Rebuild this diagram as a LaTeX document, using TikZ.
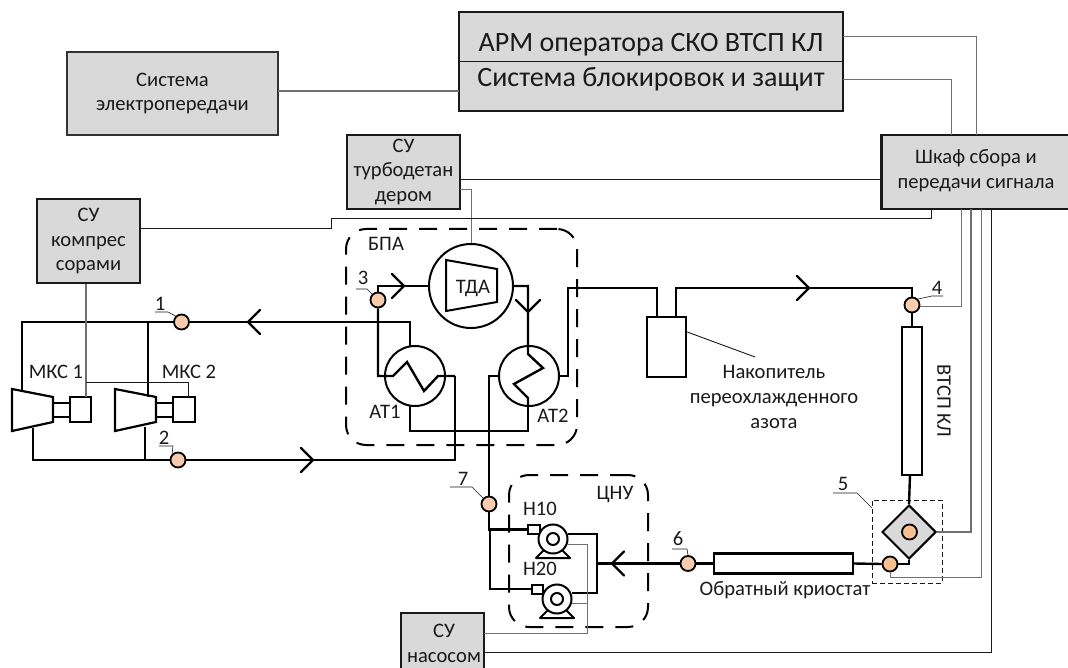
\documentclass[tikz,border=0pt]{standalone}
\usepackage{fontspec}
\setmainfont{Carlito}
\usetikzlibrary{shapes.geometric}
\definecolor{boxfill}{HTML}{D9D9D9}
\definecolor{peach}{HTML}{F8CBAD}
\definecolor{peachb}{HTML}{F7C08F}
\definecolor{ink}{HTML}{1A1A1A}
\definecolor{sgray}{HTML}{707070}
\tikzset{
  txt/.style={font=\fontsize{20.6}{24.8}\selectfont,text=ink,align=center,inner sep=0pt},
  bigt/.style={font=\fontsize{28}{30}\selectfont,text=ink,align=center,inner sep=0pt},
  box/.style={draw=ink,line width=2pt,fill=boxfill,inner sep=0pt,align=center,font=\fontsize{20.6}{24.8}\selectfont,text=ink},
  plainbox/.style={draw=black,line width=2.4pt,fill=white,inner sep=0pt},
  pt/.style={circle,draw=black,line width=1.8pt,fill=peach,minimum size=15pt,inner sep=0pt},
  ptb/.style={pt,fill=peachb},
  ring/.style={circle,draw=black,line width=2pt,fill=white,inner sep=0pt},
  pipe/.style={draw=black,line width=2.4pt,line join=miter},
  sig/.style={draw=ink,line width=.9pt},
  sigg/.style={draw=sgray,line width=1.2pt},
  leader/.style={draw=ink,line width=.6pt},
  zone/.style={draw=black,line width=2pt,rounded corners=20pt,dash pattern=on 18pt off 12pt,inner sep=0pt},
  chevron/.pic={\draw[pipe,line cap=round] (-12,-12) -- (0,0) -- (-12,12);},
  pumpbase/.pic={\draw[draw=black,line width=2pt,fill=white,line join=round] (-17,19) -- (-9,11) -- (9,11) -- (17,19) -- cycle;},
}
\begin{document}
\begin{tikzpicture}[x=1pt,y=-1pt]
\useasboundingbox (0,0) rectangle (1068,668);
\clip (0,0) rectangle (1068,668);
\fill[white] (0,0) rectangle (1068,668);

% dashed zones
\node[zone,minimum width=231pt,minimum height=216pt] (bpa) at (461.5,337) {};
\node[zone,minimum width=139pt,minimum height=152pt] (cnu) at (578.5,551) {};
\node[draw=ink,line width=.9pt,dash pattern=on 5pt off 3pt,minimum width=70pt,minimum height=83pt,inner sep=0pt] (zone5) at (907,541.5) {};

% boxes
\node[box,draw=black!80,line width=1.4pt,minimum width=211pt,minimum height=83pt] (el) at (172.5,93.5) {Система\\электропередачи};
\node[box,line width=2.4pt,minimum width=384pt,minimum height=99pt] (apm) at (651,61.5) {};
\node[bigt,minimum width=384pt,minimum height=49pt] (apmt) at (651,37) {};
\node[bigt] (apm1) at (651,45) {АРМ оператора СКО ВТСП КЛ};
\node[bigt] (apm2) at (651,79) {Система блокировок и защит};
\draw[sig] (apmt.south west) -- (apmt.south east);
\node[box,line width=2.4pt,minimum width=113pt,minimum height=74pt] (tu) at (403.5,172) {СУ\\турбодетан\\дером};
\node[box,line width=2.4pt,minimum width=190.5pt,minimum height=74pt] (shk) at (976.75,172) {};
\node[txt] (shkt) at (976,170.5) {Шкаф сбора и\\передачи сигнала};
\node[box,line width=2.4pt,minimum width=103pt,minimum height=84pt] (ko) at (88.5,241) {СУ\\компрес\\сорами};
\node[box,line width=2.4pt,minimum width=83pt,minimum height=65pt] (na) at (442.5,645.5) {};
\node[txt] (nat) at (444,643.5) {СУ\\насосом};

% apparatus rings
\node[ring,minimum size=84pt] (tda) at (471,286) {};
\node[ring,minimum size=60pt] (at1) at (415,376) {};
\node[ring,minimum size=60pt] (at2) at (529,376) {};
\node[plainbox,minimum width=39pt,minimum height=60pt] (nak) at (666.5,347) {};
\node[plainbox,minimum width=20pt,minimum height=148pt] (vt) at (912,401) {};
\node[plainbox,minimum width=139pt,minimum height=20pt] (kr) at (783.5,563.5) {};
\node[diamond,aspect=1,draw=black,line width=2pt,fill=boxfill,minimum width=54pt,minimum height=54pt,inner sep=0pt] (dia) at (909,532) {};

% measuring points
\node[pt] (c1) at (181.5,322) {};
\node[pt] (c2) at (178,460) {};
\node[pt] (c3) at (378,300) {};
\node[pt] (c4) at (912,305) {};
\node[ptb] (c5a) at (909.5,532) {};
\node[ptb] (c5b) at (890,564) {};
\node[pt] (c6) at (688,563.5) {};
\node[pt] (c7) at (489,504) {};

% pumps
\pic at (553,539) {pumpbase};
\pic at (557,599) {pumpbase};
\node[draw=black,line width=2pt,fill=white,minimum width=12pt,minimum height=9pt,inner sep=0pt] (p1in) at (534,529.5) {};
\node[draw=black,line width=2pt,fill=white,minimum width=11pt,minimum height=9pt,inner sep=0pt] (p2in) at (537.5,589) {};
\node[ring,minimum size=29pt] (p1) at (553,539) {};
\node[ring,minimum size=12pt] (p1i) at (553,539) {};
\node[ring,minimum size=29pt] (p2) at (557,599) {};
\node[ring,minimum size=12pt] (p2i) at (557,599) {};

% compressor anchors
\coordinate (t1) at (22,391);
\coordinate (t2) at (148,397);
\coordinate (b1) at (33,428);
\coordinate (b2) at (145,427);
\coordinate (m1) at (86,397);
\coordinate (m2) at (188,397);
\coordinate (at1i) at (410,346);
\coordinate (at1o) at (455,376);
\coordinate (at1b) at (410,406);
\coordinate (at2t) at (528,347);
\coordinate (at2b) at (528,406);
\coordinate (nakL) at (657,317);
\coordinate (nakR) at (676,317);
\coordinate (vtb) at (910,475);
\coordinate (pcol) at (597,563.5);
\coordinate (pout1) at (568,534);
\coordinate (pout2) at (572,593);

% compressors
\draw[draw=black,line width=2.2pt,fill=white] (12,389) -- (53,397) -- (53,422) -- (12,431) -- cycle;
\draw[draw=black,line width=2.2pt,fill=white] (115,389) -- (156,397) -- (156,422) -- (115,431) -- cycle;
\draw[draw=black,line width=2.2pt] (53,403) -- (70,403) (53,417) -- (70,417);
\draw[draw=black,line width=2.2pt] (156,403) -- (173,403) (156,417) -- (173,417);
\node[plainbox,minimum width=21pt,minimum height=25pt] (mot1) at (80.5,409.5) {};
\node[plainbox,minimum width=22pt,minimum height=25pt] (mot2) at (184,409.5) {};
\draw[draw=black,line width=2pt,fill=white] (446,260) -- (497,269) -- (497,302) -- (446,311) -- cycle;

% pipes
\draw[pipe] (t1) |- (c1.west);
\draw[pipe] (t2) -- (t2 |- c1.west);
\draw[pipe] (c1.east) -| (at1i);
\draw[pipe] (b1) |- (c2.west);
\draw[pipe] (b2) -- (b2 |- c2.west);
\draw[pipe] (c2.east) -| (at1o);
\draw[pipe] (c3.south) |- (393,376) -- (407,362) -- (424,391) -- (438,376) -- (at1o);
\draw[pipe] (c3.north) |- (tda.west);
\draw[pipe] (tda.east) -| (at2t) -- (528,354) -- (543,368) -- (514,384) -- (528,398) -- (at2b);
\draw[pipe] (at1b) |- (at2b |- 0,431) -- (at2b);
\draw[pipe] (at2.west) -| (c7.north);
\draw[pipe] (at2.east) -- (568,376) |- (nakL |- 0,288) -- (nakL);
\draw[pipe] (nakR) -- (nakR |- 0,288) -| (c4.north);
\draw[pipe] (c4.south) -- (vt.north);
\draw[pipe] (vtb) -- (dia.north);
\draw[pipe] (c5b.east) -| (dia.south);
\draw[pipe] (kr.east) -- (c5b.west);
\draw[pipe] (c6.east) -- (kr.west);
\draw[pipe] (c6.west) -- (pcol);
\draw[pipe] (pout1) -| (pout2 -| pcol) -- (pout2);
\draw[pipe] (c7.south) |- (p1in.west);
\draw[pipe] (490,529.5) |- (p2in.west);

% flow arrows
\pic[rotate=180] at (248,322) {chevron};
\pic at (313,460) {chevron};
\pic at (404,286) {chevron};
\pic[rotate=-90] at (528,312) {chevron};
\pic at (809,288) {chevron};
\pic[rotate=180] at (612,563.5) {chevron};

% signal lines
\coordinate (ela) at (278,91);
\coordinate (apa) at (459,91);
\draw[sigg] (ela) -- (apa);
\coordinate (apb) at (843,37);
\coordinate (shb) at (976,135);
\draw[sigg,line width=1pt] (apb) -| (shb);
\coordinate (apc) at (843,80);
\coordinate (shc) at (951,135);
\draw[sigg,line width=1pt] (apc) -| (shc);
\coordinate (tua) at (460,179);
\draw[sig] (tua) -- (tua -| shk.west);
\coordinate (tub) at (460,190);
\draw[sigg,line width=1pt] (tub) -| (tda.north);
\coordinate (koa) at (140,228);
\coordinate (sha) at (931,209);
\draw[sig] (koa) -- (331,228) |- (sha |- 0,218) -- (sha);
\draw[sigg] (ko.south -| m1) -- (m1);
\draw[sig] (m1 |- 0,382) -| (m2);
\coordinate (sh4) at (961,209);
\draw[sigg,line width=1pt] (c4.east |- 0,307) -| (sh4);
\coordinate (sh5) at (971,209);
\draw[sigg] (dia.east) -| (sh5);
\coordinate (sh5b) at (981,209);
\draw[sigg,line width=1pt] (c5b.south) |- (sh5b |- 0,577) -- (sh5b);
\coordinate (sh6) at (991,209);
\draw[sig] (na.east |- 0,652) -| (sh6);
\coordinate (naa) at (484,633);
\draw[sigg,line width=1pt] (naa) -| (587,544) -- (567,544);
\draw[sigg,line width=1pt] (572,603) -- (587,603);
\draw[sig] (nak.east |- 0,332) -- (755,357);

% labels
\node[txt] (l1) at (160,304) {1};
\draw[leader] (155,312) -- (168,312) -- (c1.north west);
\node[txt] (l2) at (164,438) {2};
\draw[leader] (159,446) -- (173,446) -- (c2.north west);
\node[txt] (l3) at (363,278) {3};
\draw[leader] (356,289) -- (367,289) -- (c3.north west);
\node[txt] (l4) at (937,288) {4};
\draw[leader] (943,296) -- (932,296) -- (c4.north east);
\node[txt] (l5) at (843,484) {5};
\draw[leader] (833,493) -- (857,493) -- (872,508);
\node[txt] (l6) at (678,539) {6};
\draw[leader] (672,549) -- (687,549) -- (c6.north);
\node[txt] (l7) at (463,479) {7};
\draw[leader] (450,487) -- (472,487) -- (c7.north west);

\node[txt] (tm1) at (56,372) {МКС 1};
\node[txt] (tm2) at (189,372) {МКС 2};
\node[txt] (tb) at (386,244) {БПА};
\node[txt] (tt) at (473,288) {ТДА};
\node[txt] (ta1) at (385,412) {АТ1};
\node[txt] (ta2) at (553,416) {АТ2};
\node[txt] (tc) at (615,494) {ЦНУ};
\node[txt] (th1) at (540,509) {Н10};
\node[txt] (th2) at (540,569) {Н20};
\node[txt] (tn) at (774,397) {Накопитель\\переохлажденного\\азота};
\node[txt,rotate=-90] (tv) at (944,401) {ВТСП КЛ};
\node[txt] (tk) at (785,590) {Обратный криостат};
\end{tikzpicture}
\end{document}
